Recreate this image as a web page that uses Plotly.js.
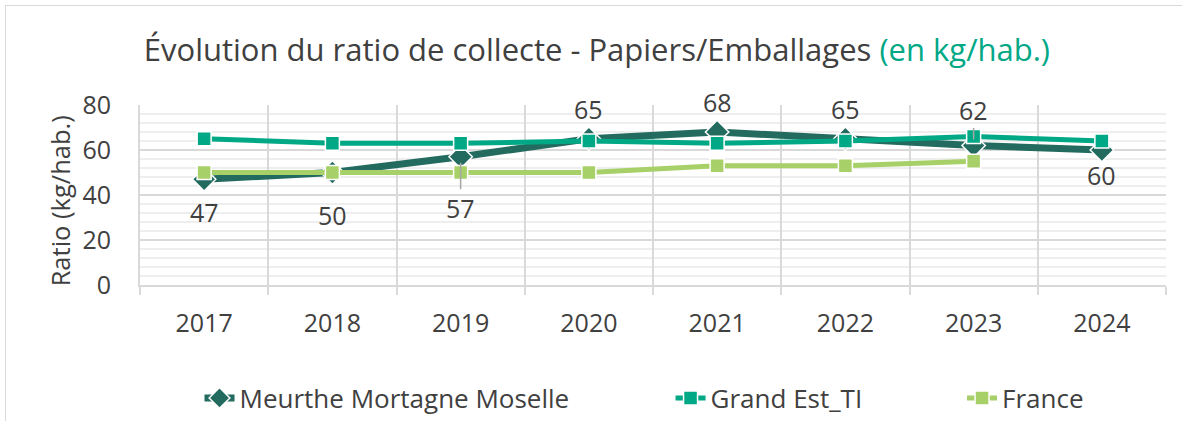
<!DOCTYPE html>
<html>
<head>
<meta charset="utf-8">
<script src="https://cdn.plot.ly/plotly-3.0.1.min.js"></script>
<style>
  html, body { margin:0; padding:0; background:#fff; overflow:hidden; }
  #frame { position:absolute; left:5px; top:5px; width:1300px; height:600px; border:1px solid #d9d9d9; box-sizing:border-box; }
  #chart { position:absolute; left:0; top:0; width:1182px; height:421px; }
</style>
</head>
<body>
<div id="frame"></div>
<div id="chart"></div>
<script>
// ---- data ----
const years = ["2017", "2018", "2019", "2020", "2021", "2022", "2023", "2024"];
const meurtheMortagneMoselle = [47, 50, 57, 65, 68, 65, 62, 60];
const grandEstTI = [65, 63, 63, 64, 63, 64, 66, 64];
const france = [50, 50, 50, 50, 53, 53, 55, null];
const seriesNames = ["Meurthe Mortagne Moselle", "Grand Est_TI", "France"];
const yTickValues = [0, 20, 40, 60, 80];
const yAxisTitle = "Ratio (kg/hab.)";

// ---- styling of data labels (pixel offsets, leader lines) ----
const labelOffsets = [33, 42, 51, -30, -30, -30, -36, 25];
const labelLeaders = [false, false, true, false, false, false, true, false];

const textColor = "#404040";
const font = "Open Sans, sans-serif";

const traces = [
  {
    x: years, y: meurtheMortagneMoselle, name: seriesNames[0], type: "scatter", mode: "lines+markers",
    line: { color: "#236B5F", width: 7 },
    marker: { symbol: "diamond", size: 18, color: "#236B5F", line: { color: "#fff", width: 1.5 } },
    legend: "legend"
  },
  {
    x: years, y: grandEstTI, name: seriesNames[1], type: "scatter", mode: "lines+markers",
    line: { color: "#00A886", width: 5 },
    marker: { symbol: "square", size: 14, color: "#00A886", line: { color: "#fff", width: 1.5 } },
    legend: "legend2"
  },
  {
    x: years, y: france, name: seriesNames[2], type: "scatter", mode: "lines+markers",
    line: { color: "#A8D068", width: 5 },
    marker: { symbol: "square", size: 14, color: "#A8D068", line: { color: "#fff", width: 1.5 } },
    legend: "legend3"
  }
];

// annotations on a category axis use the category index
const annotations = years.map((yr, i) => ({
  x: i, y: meurtheMortagneMoselle[i], xref: "x", yref: "y",
  text: String(meurtheMortagneMoselle[i]),
  showarrow: true, ax: 0, ay: labelOffsets[i],
  arrowhead: 0, arrowwidth: 1.5, standoff: 6,
  arrowcolor: labelLeaders[i] ? "#a6a6a6" : "rgba(0,0,0,0)",
  font: { family: font, size: 25, color: textColor }
}));
annotations.push({
  text: yAxisTitle, xref: "paper", yref: "paper", x: -0.078, y: 0.47,
  xanchor: "center", yanchor: "middle", textangle: -90, showarrow: false,
  font: { family: font, size: 25.5, color: textColor }
});

const legendCommon = {
  orientation: "h", xref: "container", yref: "container",
  yanchor: "middle", y: 0.0546, xanchor: "left",
  font: { family: font, size: 26, color: textColor },
  bgcolor: "rgba(0,0,0,0)", itemwidth: 30
};

const layout = {
  width: 1182, height: 421,
  margin: { l: 140, r: 16, t: 105, b: 136, autoexpand: false },
  paper_bgcolor: "rgba(0,0,0,0)", plot_bgcolor: "#fff",
  title: {
    text: "Évolution du ratio de collecte - Papiers/Emballages <span style='color:#00A886'>(en kg/hab.)</span>",
    font: { family: font, size: 31, color: textColor },
    x: 0.505, xanchor: "center", xref: "container",
    y: 0.88, yanchor: "middle", yref: "container"
  },
  xaxis: {
    type: "category", tickson: "boundaries", range: [-0.5, years.length - 0.5],
    autorange: false,
    showgrid: true, gridcolor: "#d9d9d9", gridwidth: 2,
    showline: true, linecolor: "#d9d9d9", linewidth: 2,
    ticks: "outside", ticklen: 8, tickcolor: "#d9d9d9", tickwidth: 2,
    ticklabelstandoff: 15, tickangle: 0,
    tickfont: { family: font, size: 25, color: textColor },
    fixedrange: true
  },
  yaxis: {
    range: [0, 80], autorange: false, tickvals: yTickValues,
    showgrid: true, gridcolor: "#d9d9d9", gridwidth: 2,
    zeroline: false, showline: true, linecolor: "#d9d9d9", linewidth: 2,
    minor: { dtick: 4, showgrid: true, gridcolor: "#eeeeee", gridwidth: 2 },
    ticklabelstandoff: 22,
    tickfont: { family: font, size: 25, color: textColor },
    fixedrange: true
  },
  legend: Object.assign({}, legendCommon, { x: 0.1688 }),
  legend2: Object.assign({}, legendCommon, { x: 0.5673 }),
  legend3: Object.assign({}, legendCommon, { x: 0.8139 }),
  annotations: annotations,
  showlegend: true
};

Plotly.newPlot("chart", traces, layout, { displayModeBar: false, staticPlot: true });
</script>
</body>
</html>
